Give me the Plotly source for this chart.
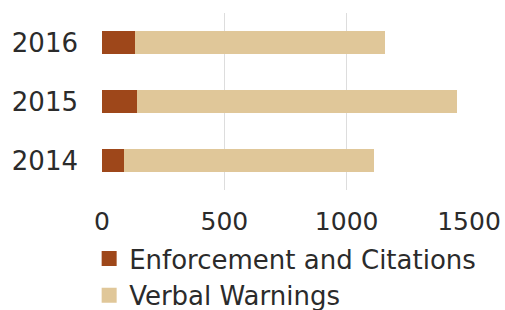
import plotly.graph_objects as go

years = ["2014", "2015", "2016"]
enforcement = [91, 143, 136]
verbal = [1022, 1309, 1022]
x_ticks = [0, 500, 1000, 1500]
series_names = ["Enforcement and Citations", "Verbal Warnings"]
series_colors = ["#9E471A", "#E0C799"]

fig = go.Figure()
for vals, name, color in zip([enforcement, verbal], series_names, series_colors):
    fig.add_trace(go.Bar(y=years, x=vals, name=name, orientation="h", showlegend=False,
                         marker=dict(color=color, line=dict(width=0))))
# legend entries with larger square swatches
for name, color in zip(series_names, series_colors):
    fig.add_trace(go.Scatter(x=[None], y=[None], mode="markers", name=name,
                             marker=dict(symbol="square", size=15, color=color)))

fig.update_layout(
    barmode="stack",
    bargap=0.62,
    width=505, height=310,
    margin=dict(l=102, r=36, t=13, b=120, autoexpand=False),
    paper_bgcolor="white", plot_bgcolor="white",
    font=dict(family="DejaVu Sans", color="#2b2b2b", size=24),
    xaxis=dict(range=[0, 1500], tickvals=x_ticks, showgrid=True, gridcolor="#DDDDDD",
               zeroline=False, showline=False, tickfont=dict(size=25),
               ticklabelstandoff=14, automargin=False),
    yaxis=dict(type="category", showgrid=False, showline=False, zeroline=False,
               tickfont=dict(size=26), ticklabelstandoff=23, automargin=False),
    legend=dict(orientation="v", x=-0.035, xanchor="left", y=-0.255, yanchor="top",
                font=dict(size=26), traceorder="normal", bgcolor="rgba(0,0,0,0)",
                tracegroupgap=0, itemsizing="trace"),
    showlegend=True,
)
fig.write_html("out.html", config={"displayModeBar": False},
               post_script="document.body.style.margin='0';document.body.style.overflow='hidden';")
